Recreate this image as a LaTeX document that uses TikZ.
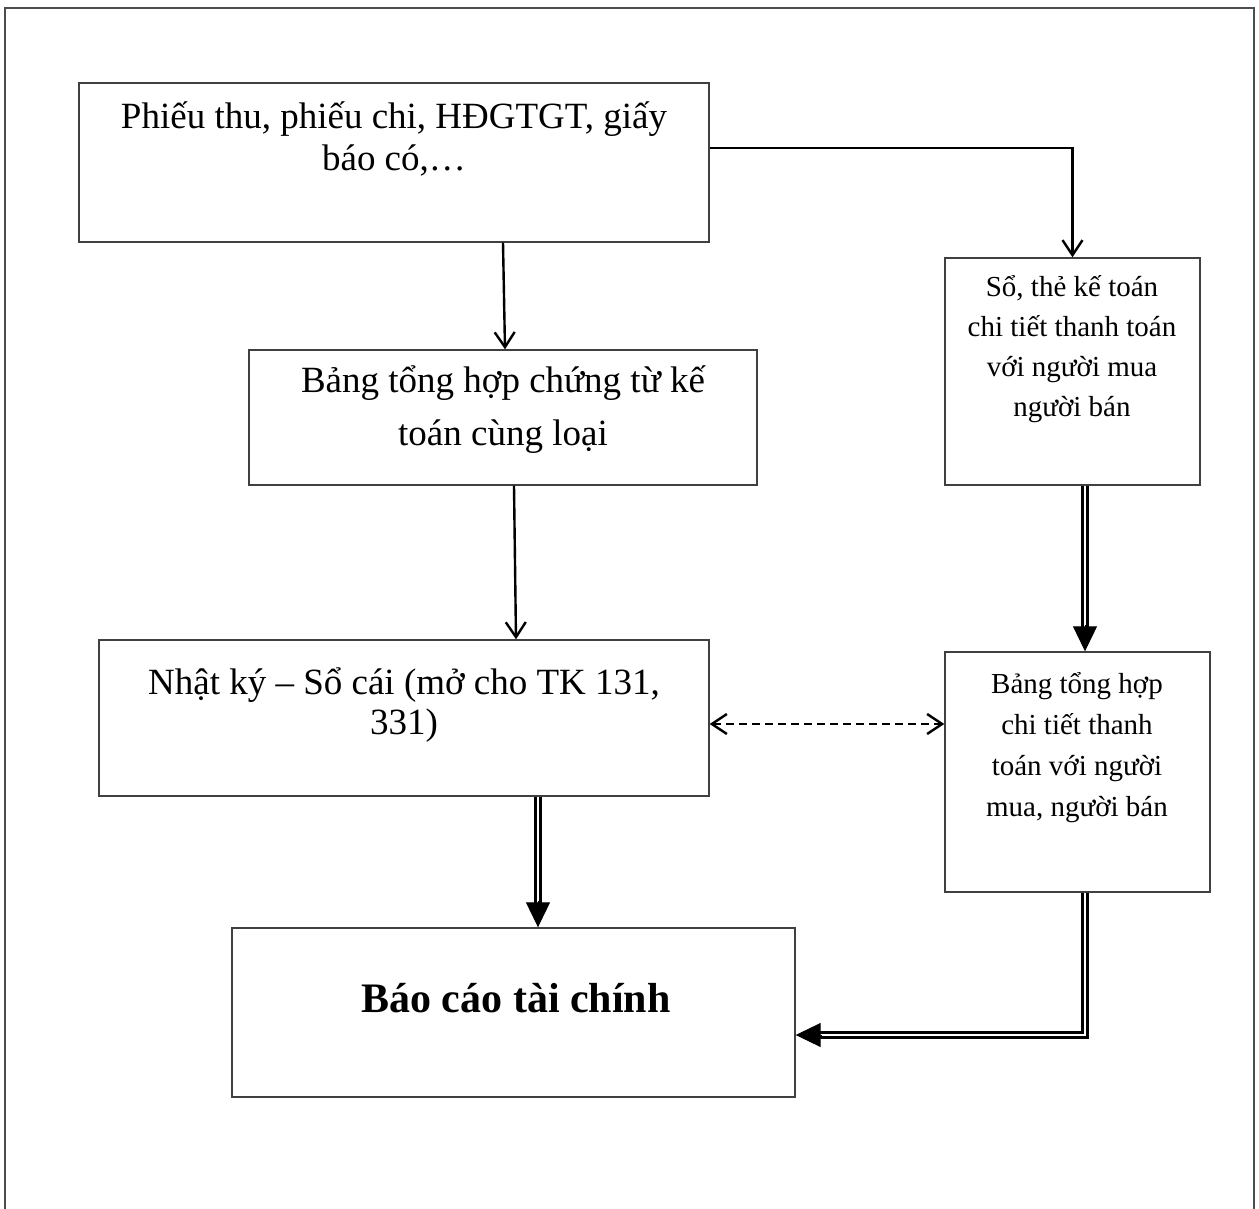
\documentclass[tikz,border=0pt]{standalone}
\usepackage{fontspec}
\setmainfont{Liberation Serif}
\usetikzlibrary{arrows.meta,calc}
\begin{document}
\begin{tikzpicture}[x=1pt,y=-1pt,
  frame/.style={draw=black!70, line width=2pt},
  box/.style={draw=black!75, line width=1.4pt, inner sep=0pt},
  bigtext/.style={align=center, font=\fontsize{37}{42}\selectfont},
  smalltext/.style={align=center, font=\fontsize{29}{40}\selectfont},
  thinarrow/.style={draw=black, line width=2.4pt, -{Straight Barb[length=15pt,width=20pt,line width=2.4pt]}},
  dashedarrow/.style={draw=black, line width=2.4pt, dash pattern=on 8pt off 5pt,
    {Straight Barb[length=15pt,width=20pt,line width=2.4pt]}-{Straight Barb[length=15pt,width=20pt,line width=2.4pt]}},
  dblline/.style={draw=black, double=white, line width=2.8pt, double distance=2.2pt, shorten >=22pt},
  filltip/.style={draw=black, line width=1pt, -{Triangle[length=25pt,width=24pt]}}
]
\useasboundingbox (0,0) rectangle (1259,1209);

% page frame, open at the bottom
\draw[frame] (5,1209) -- (5,8) -- (1254,8) -- (1254,1209);

% boxes
\node[box, minimum width=630pt, minimum height=159pt] (b1) at (394,162.5) {};
\node[box, minimum width=508pt, minimum height=135pt] (b2) at (503,417.5) {};
\node[box, minimum width=255pt, minimum height=227pt] (b3) at (1072.5,371.5) {};
\node[box, minimum width=610pt, minimum height=156pt] (b4) at (404,718) {};
\node[box, minimum width=265pt, minimum height=240pt] (b5) at (1077.5,772) {};
\node[box, minimum width=563pt, minimum height=169pt] (b6) at (513.5,1012.5) {};

% labels
\node[bigtext] (t1) at (394,139) {Phiếu thu, phiếu chi, HĐGTGT, giấy\\báo có,…};
\node[bigtext, font=\fontsize{37}{53}\selectfont] (t2) at (503,410) {Bảng tổng hợp chứng từ kế\\toán cùng loại};
\node[smalltext] (t3) at (1072,349) {Sổ, thẻ kế toán\\chi tiết thanh toán\\với người mua\\người bán};
\node[bigtext, font=\fontsize{37}{40}\selectfont] (t4) at (404,705) {Nhật ký – Sổ cái (mở cho TK 131,\\331)};
\node[smalltext, font=\fontsize{29}{41}\selectfont] (t5) at (1077,748) {Bảng tổng hợp\\chi tiết thanh\\toán với người\\mua, người bán};
\node[font=\fontsize{42}{50}\selectfont\bfseries] (t6) at (516,998) {Báo cáo tài chính};

% single-line flows
\draw[thinarrow] (b1.east |- 0,148) -| (b3.north);
\draw[thinarrow] (b1.south -| 503,0) -- (b2.north -| 505,0);
\draw[thinarrow] (b2.south -| 514,0) -- (b4.north -| 516,0);

% double-line flows
\draw[dblline] (b3.south -| 1085,0) -- (b5.north -| 1085,0);
\draw[filltip] ($(b5.north -| 1085,0)+(0,-26)$) -- (b5.north -| 1085,0);

\draw[dblline] (b4.south -| 538,0) -- (b6.north -| 538,0);
\draw[filltip] ($(b6.north -| 538,0)+(0,-26)$) -- (b6.north -| 538,0);

\draw[dblline] (b5.south -| 1085,0) |- (b6.east |- 0,1035);
\draw[filltip] ($(b6.east |- 0,1035)+(26,0)$) -- (b6.east |- 0,1035);

% cross-check link
\draw[dashedarrow] (b4.east |- 0,724) -- (b5.west |- 0,724);
\end{tikzpicture}
\end{document}
